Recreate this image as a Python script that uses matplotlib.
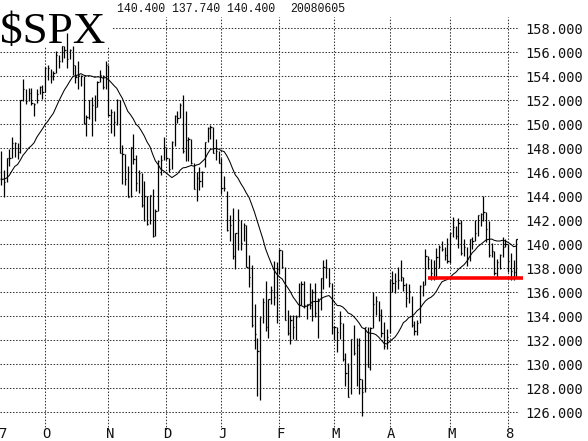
import numpy as np
import matplotlib
matplotlib.use("Agg")
import matplotlib.pyplot as plt
from matplotlib.patches import Rectangle
from matplotlib.transforms import blended_transform_factory

# ---------------- data (SPX / 10) ----------------
months = ["2007-09", "2007-10", "2007-11", "2007-12", "2008-01", "2008-02",
          "2008-03", "2008-04", "2008-05", "2008-06"]
month_days = [
    [7, 10, 11, 12, 13, 14, 17, 18, 19, 20, 21, 24, 25, 26, 27, 28],
    [1, 2, 3, 4, 5, 8, 9, 10, 11, 12, 15, 16, 17, 18, 19, 22, 23, 24, 25, 26, 29, 30, 31],
    [1, 2, 5, 6, 7, 8, 9, 12, 13, 14, 15, 16, 19, 20, 21, 23, 26, 27, 28, 29, 30],
    [3, 4, 5, 6, 7, 10, 11, 12, 13, 14, 17, 18, 19, 20, 21, 24, 26, 27, 28, 31],
    [2, 3, 4, 7, 8, 9, 10, 11, 14, 15, 16, 17, 18, 22, 23, 24, 25, 28, 29, 30, 31],
    [1, 4, 5, 6, 7, 8, 11, 12, 13, 14, 15, 19, 20, 21, 22, 25, 26, 27, 28, 29],
    [3, 4, 5, 6, 7, 10, 11, 12, 13, 14, 17, 18, 19, 20, 24, 25, 26, 27, 28, 31],
    [1, 2, 3, 4, 7, 8, 9, 10, 11, 14, 15, 16, 17, 18, 21, 22, 23, 24, 25, 28, 29, 30],
    [1, 2, 5, 6, 7, 8, 9, 12, 13, 14, 15, 16, 19, 20, 21, 22, 23, 27, 28, 29, 30],
    [2, 3, 4, 5],
]
month_labels = ["7", "O", "N", "D", "J", "F", "M", "A", "M", "8"]

high = [
    # Sep
    147.8, 146.2, 147.2, 147.9, 148.9, 148.5, 148.4, 152.0, 153.8, 152.9, 153.0, 153.0, 151.8, 152.9, 153.2, 153.3,
    # Oct
    154.8, 154.9, 154.6, 154.4, 156.1, 155.8, 156.5, 156.5, 157.6, 156.3, 156.5, 154.9, 155.3, 154.1, 154.0, 150.8,
    152.0, 152.3, 152.4, 153.6, 154.5, 154.1, 155.3,
    # Nov
    154.9, 151.3, 151.1, 152.1, 152.0, 148.3, 147.5, 146.5, 148.1, 149.2, 147.4, 146.2, 145.9, 145.3, 144.0, 144.1,
    144.6, 142.9, 147.0, 147.4, 148.9,
    # Dec
    148.1, 147.2, 148.6, 150.8, 151.1, 151.8, 152.4, 151.1, 148.9, 148.8, 146.8, 146.0, 146.4, 146.1, 148.5, 149.8,
    149.9, 149.8, 148.8, 147.8,
    # Jan
    147.2, 145.7, 144.4, 142.4, 143.0, 140.9, 142.9, 142.0, 141.8, 141.6, 139.1, 138.3, 135.0, 132.2, 133.9, 135.5,
    136.9, 135.4, 136.5, 138.6, 138.5,
    # Feb
    139.6, 139.5, 138.1, 134.5, 134.1, 134.1, 134.1, 136.8, 136.9, 136.9, 135.0, 136.8, 136.3, 136.8, 135.5, 137.2,
    138.7, 138.8, 138.0, 136.8,
    # Mar
    133.2, 133.1, 134.4, 133.4, 130.9, 130.1, 132.1, 133.3, 132.2, 132.2, 128.8, 133.1, 133.1, 133.1, 136.0, 135.7,
    135.3, 134.6, 133.5, 132.9,
    # Apr
    137.0, 137.8, 137.6, 138.1, 138.7, 137.3, 136.8, 136.7, 135.7, 133.6, 133.7, 136.6, 136.9, 139.6, 139.0, 138.8,
    138.7, 139.7, 139.9, 140.3, 139.8, 140.5,
    # May
    140.9, 142.3, 141.5, 142.2, 142.0, 140.4, 139.8, 140.4, 140.6, 142.0, 142.4, 142.6, 144.0, 142.7, 141.9, 140.1,
    139.4, 138.8, 139.2, 140.6, 140.4,
    # Jun
    140.0, 139.3, 138.7, 140.4,
]
low = [
    # Sep
    144.9, 143.9, 145.2, 146.5, 147.2, 147.3, 147.1, 147.6, 151.9, 151.7, 151.9, 151.6, 150.7, 151.8, 152.5, 152.1,
    # Oct
    152.7, 153.7, 153.4, 153.7, 154.3, 154.7, 155.2, 155.5, 154.7, 155.4, 154.1, 153.4, 152.9, 153.2, 150.0, 149.0,
    150.4, 149.0, 150.3, 151.4, 153.5, 152.9, 152.9,
    # Nov
    150.7, 149.3, 149.0, 149.9, 147.6, 145.0, 144.9, 143.9, 143.9, 146.7, 144.4, 144.3, 143.1, 141.9, 141.6, 141.7,
    140.6, 140.7, 142.8, 145.8, 147.0,
    # Dec
    147.0, 146.0, 146.3, 148.2, 150.1, 150.5, 147.6, 146.9, 146.9, 146.7, 144.6, 143.6, 144.5, 144.8, 146.4, 148.5,
    148.8, 147.6, 147.0, 146.8,
    # Jan
    144.2, 144.4, 141.1, 140.3, 138.8, 137.9, 139.5, 139.5, 140.3, 138.1, 136.4, 133.1, 131.3, 127.4, 127.0, 133.4,
    132.8, 132.2, 135.0, 134.9, 133.4,
    # Feb
    137.5, 138.0, 133.7, 132.4, 131.7, 132.1, 132.0, 133.9, 134.9, 134.7, 133.8, 134.6, 133.6, 133.9, 132.2, 134.5,
    136.3, 137.2, 136.4, 132.5,
    # Mar
    132.0, 131.0, 132.1, 130.3, 128.2, 127.3, 127.5, 130.8, 128.2, 127.5, 125.7, 127.7, 129.8, 129.5, 133.0, 134.1,
    133.6, 132.3, 131.3, 131.3,
    # Apr
    132.6, 136.0, 135.9, 136.3, 136.9, 136.1, 134.8, 135.1, 133.1, 132.4, 132.4, 133.4, 135.7, 136.6, 137.9, 137.0,
    137.0, 137.1, 138.0, 139.4, 138.7, 138.4,
    # May
    138.4, 140.6, 140.4, 139.7, 139.1, 139.0, 138.2, 138.6, 139.6, 140.3, 140.7, 141.5, 141.9, 140.2, 138.9, 138.9,
    137.4, 137.3, 137.9, 138.9, 139.8,
    # Jun
    137.7, 137.0, 137.0, 137.3,
]
close = [
    # Sep
    145.4, 145.2, 147.2, 147.2, 148.4, 148.4, 147.7, 152.0, 152.9, 151.9, 152.6, 151.8, 151.7, 152.5, 153.1, 152.7,
    # Oct
    154.7, 154.7, 154.0, 154.3, 155.8, 155.3, 156.5, 156.2, 155.4, 156.2, 154.9, 153.9, 154.1, 154.0, 150.1, 150.6,
    152.0, 151.6, 151.4, 153.5, 154.1, 153.1, 154.9,
    # Nov
    150.8, 151.0, 150.2, 152.0, 147.6, 147.5, 145.4, 143.9, 148.1, 147.1, 145.1, 145.9, 143.3, 144.0, 141.7, 144.1,
    140.7, 142.8, 146.9, 147.0, 148.1,
    # Dec
    147.2, 146.3, 148.5, 150.7, 150.5, 151.6, 147.8, 148.7, 148.8, 146.8, 144.6, 145.5, 145.3, 146.0, 148.5, 149.7,
    149.8, 147.6, 147.8, 146.8,
    # Jan
    144.7, 144.7, 141.2, 141.6, 139.0, 140.9, 142.0, 140.1, 141.6, 138.1, 137.3, 133.3, 132.5, 131.1, 133.9, 135.2,
    133.1, 135.4, 136.2, 135.6, 137.9,
    # Feb
    139.5, 138.1, 133.7, 132.6, 133.7, 133.1, 133.9, 134.9, 136.7, 134.9, 135.0, 134.9, 136.0, 134.3, 135.3, 137.2,
    138.1, 138.0, 136.8, 133.1,
    # Mar
    133.1, 132.7, 133.4, 130.4, 129.3, 127.3, 132.1, 130.9, 131.6, 128.8, 127.7, 133.1, 129.8, 133.0, 135.0, 135.3,
    134.1, 132.6, 131.5, 132.3,
    # Apr
    137.0, 136.8, 136.9, 137.0, 137.3, 136.6, 135.5, 136.1, 133.3, 132.8, 133.4, 136.5, 136.6, 139.0, 138.8, 137.6,
    138.0, 138.9, 139.8, 139.6, 139.1, 138.6,
    # May
    140.9, 141.4, 140.7, 141.8, 139.3, 139.8, 138.8, 140.4, 140.3, 140.9, 142.4, 142.5, 142.7, 141.3, 139.1, 139.4,
    137.6, 138.5, 139.1, 139.8, 140.0,
    # Jun
    138.6, 137.8, 137.7, 140.4,
]
# closes of the 19 sessions before the first bar (needed for the moving average)
prior_close = [145.4, 145.3, 142.7, 140.7, 141.1, 144.6, 144.6, 144.7, 146.4, 146.3,
               147.9, 146.7, 143.2, 146.4, 145.8, 147.4, 148.9, 147.2, 147.9]
ma_period = 20
support_level = 137.2
support_start = "2008-04-21"
header_values = "140.400 137.740 140.400"
header_date = "20080605"
title = "$SPX"
y_ticks = list(range(126, 159, 2))

# ---------------- derived ----------------
dates = [f"{m}-{d:02d}" for m, ds in zip(months, month_days) for d in ds]
n = len(close)
idx = np.arange(n)
hi = np.array(high); lo = np.array(low); cl = np.array(close)
allc = np.array(prior_close + close)
ma = np.convolve(allc, np.ones(ma_period) / ma_period, mode="valid")
month_start = []
k = 0
for ds in month_days:
    month_start.append(k)
    k += len(ds)

# ---------------- figure ----------------
W, H = 588, 441
fig = plt.figure(figsize=(W / 100, H / 100), dpi=100)
ax_top, ax_bot, ax_right = 17, 430, 518
ax = fig.add_axes([0, 1 - ax_bot / H, ax_right / W, (ax_bot - ax_top) / H])

px_per_bar = 2.756
x0 = 1.0
ax.set_xlim(-x0 / px_per_bar, (ax_right - x0) / px_per_bar)
ax.set_ylim(126 - (ax_bot - 412.3) / 12.0, 126 + (412.3 - ax_top) / 12.0)

for s in ax.spines.values():
    s.set_visible(False)

grid_kw = dict(color="#333333", lw=0.75, ls=(0, (1.4, 1.6)), zorder=0.5)
for yv in y_ticks:
    ax.axhline(yv, **grid_kw)
for ms in month_start[1:]:
    ax.axvline(ms, **grid_kw)

# bars
ax.vlines(idx, lo, hi, color="black", lw=0.9, zorder=3)
ax.hlines(cl, idx, idx + 0.45, color="black", lw=0.9, zorder=3)
# moving average
ax.plot(idx, ma, color="black", lw=0.75, zorder=3.5)
# support line
s_i = dates.index(support_start)
ax.plot([s_i - 0.1, (523 - x0) / px_per_bar], [support_level, support_level],
        color="#ff0000", lw=2.6, solid_capstyle="butt", zorder=4, clip_on=False)

# ticks
mono = "DejaVu Sans Mono"
ax.yaxis.tick_right()
ax.set_yticks(y_ticks)
ax.set_yticklabels([f"{v:.3f}" for v in y_ticks], family=mono, fontsize=9.8, color="#111111")
ax.tick_params(axis="y", length=0, pad=5)
ax.set_xticks([])
xt = blended_transform_factory(ax.transData, fig.transFigure)
for ms, lab in zip(month_start[1:], month_labels[1:]):
    ax.text(ms + 0.5, 1 - 438 / H, lab, transform=xt, family=mono, fontsize=10,
            color="#111111", ha="center", va="baseline", clip_on=False)
fig.text(3.5 / W, 1 - 438 / H, month_labels[0], family=mono, fontsize=10,
         color="#111111", ha="center", va="baseline")

# title with white backing
ax.add_patch(Rectangle((0, 1 - 47 / H), 112 / W, 40 / H, transform=fig.transFigure,
                       facecolor="white", edgecolor="none", zorder=1, clip_on=False))
ax.text(0, 1 - 43 / H, title, transform=fig.transFigure, family="Liberation Serif",
        fontsize=32.5, va="baseline", ha="left", color="black", zorder=2, clip_on=False)

fig.text(117 / W, 1 - 9 / H, header_values, family="Liberation Mono", fontsize=8.3,
         va="center", ha="left", color="#111111")
fig.text(290 / W, 1 - 9 / H, header_date, family="Liberation Mono", fontsize=8.3,
         va="center", ha="left", color="#111111")

fig.savefig("out.png", dpi=100, facecolor="white")
